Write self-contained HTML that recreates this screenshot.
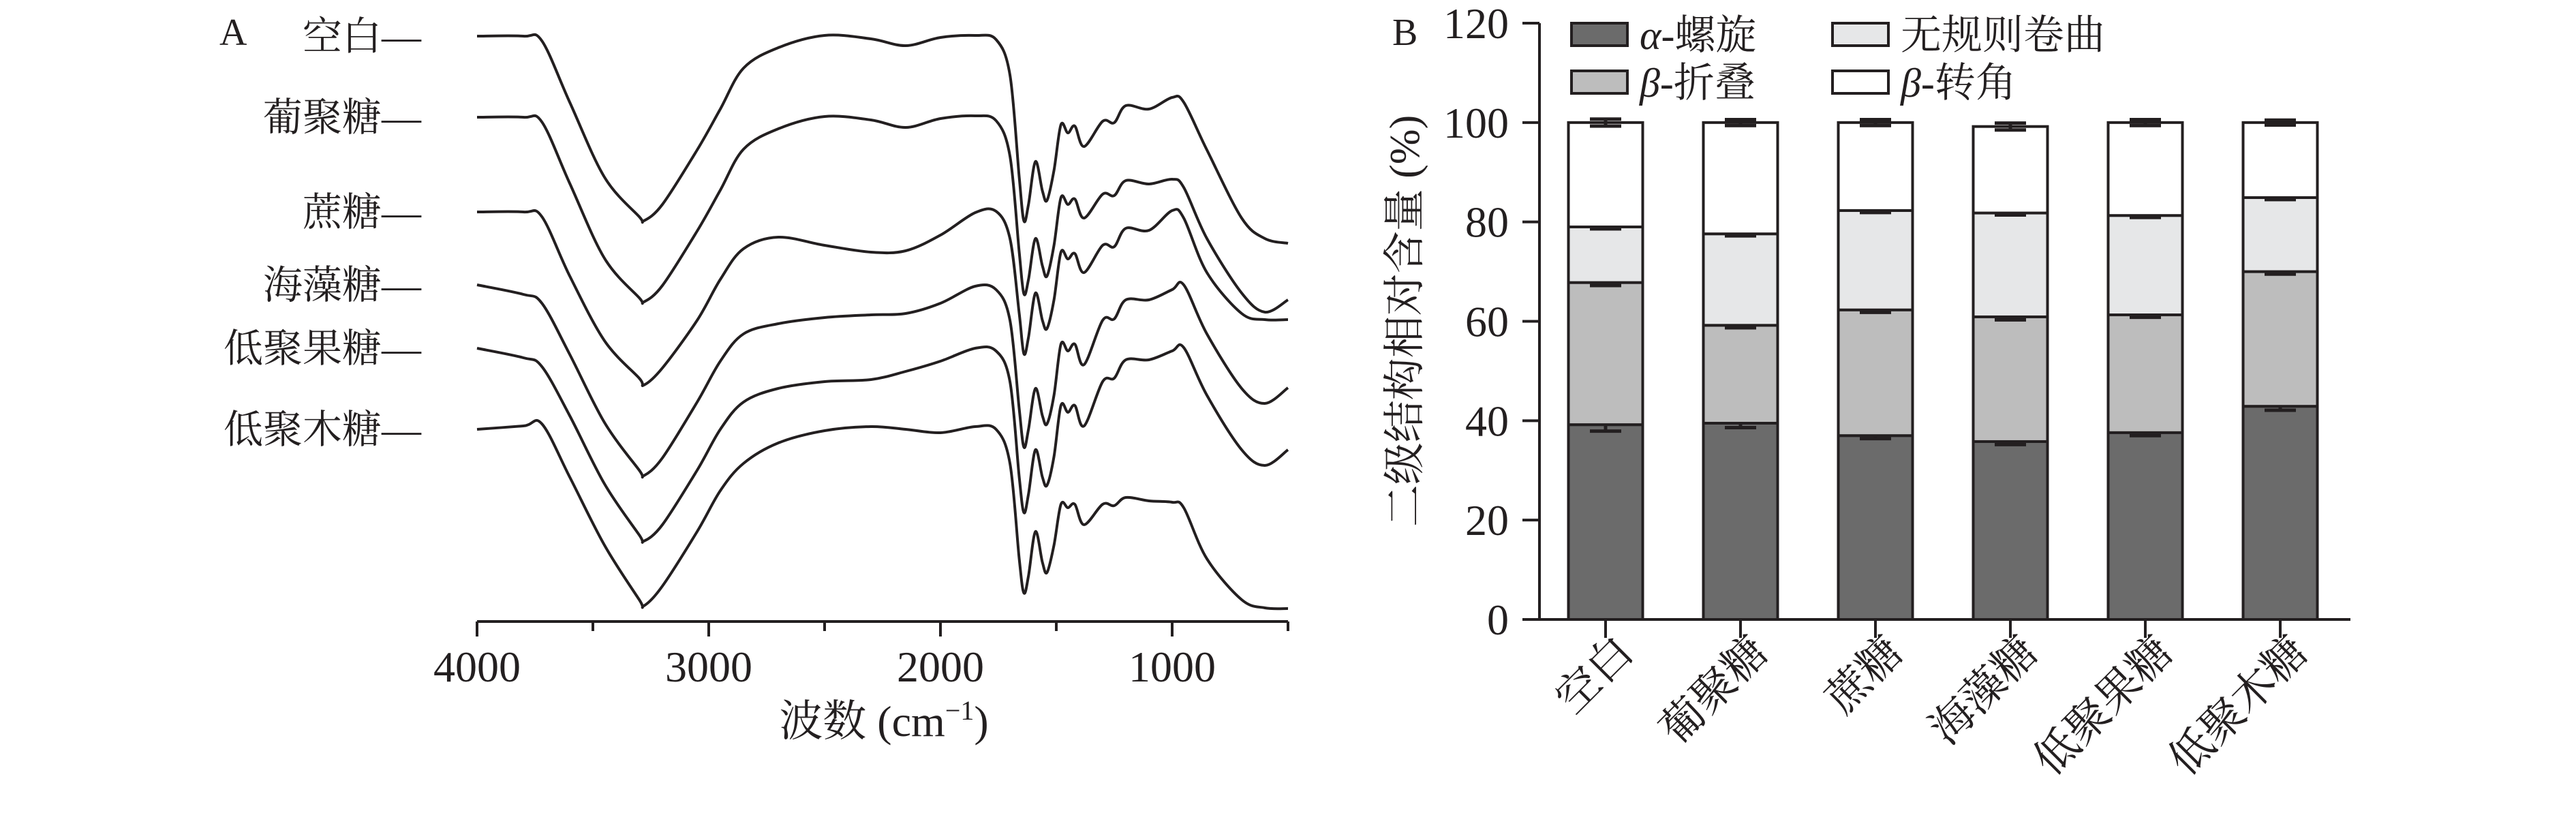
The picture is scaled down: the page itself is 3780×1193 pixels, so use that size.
<!DOCTYPE html>
<html><head><meta charset="utf-8"><style>
html,body{margin:0;padding:0;background:#fff}
svg{display:block}
text{font-family:"Liberation Serif","Noto Serif CJK SC",serif;fill:#231f20}
</style></head><body>
<svg id="fig" width="3780" height="1193" viewBox="0 0 3780 1193" xmlns="http://www.w3.org/2000/svg">
<g id="panelA"></g>
<g id="panelB"></g>
</svg>
<script>
// ---------- Panel A data ----------
const wavenumbers=[4000,3800,3720,3600,3450,3300,3280,3200,3050,2950,2850,2700,2500,2300,2150,2000,1850,1760,1700,1660,1640,1620,1590,1560,1540,1510,1480,1450,1420,1380,1300,1250,1200,1100,1000,950,850,700,600,500];
const sampleNames=["空白","葡聚糖","蔗糖","海藻糖","低聚果糖","低聚木糖"];
const curveBlank=[5.3,5.3,6.0,15.0,26.0,31.8,32.4,30.0,22.0,16.0,10.0,7.0,5.2,5.7,6.7,5.5,5.2,5.8,11.0,26.0,32.4,30.0,23.7,28.0,29.4,25.0,18.3,19.5,18.5,21.5,17.8,18.0,15.5,16.0,14.3,15.0,22.0,32.0,35.0,35.7];
const curveDextran=[17.2,17.2,17.9,26.9,37.9,43.7,44.3,41.9,33.9,27.9,21.9,18.9,17.1,17.6,18.7,17.4,17.0,17.7,22.9,37.0,43.1,41.0,35.0,39.0,40.5,36.0,29.0,30.0,29.2,32.0,28.5,28.7,26.5,27.0,26.3,27.5,35.0,43.0,45.8,44.0];
const curveSucrose=[31.1,31.1,31.8,40.5,50.0,55.5,56.5,54.0,47.0,41.0,36.5,34.8,36.0,37.0,36.8,34.5,31.2,31.0,35.0,46.0,51.9,49.5,43.0,47.0,48.2,44.0,37.0,38.0,37.2,40.0,36.0,36.2,33.5,33.8,30.9,32.0,40.0,46.0,46.9,46.9];
const curveTrehalose=[41.8,43.2,44.5,52.0,62.0,69.0,69.8,67.2,59.0,53.0,49.0,47.5,46.6,46.2,46.0,44.5,42.0,42.5,47.0,60.0,65.6,63.0,57.0,61.0,62.2,58.0,50.5,51.5,50.5,53.5,47.0,46.8,44.0,44.0,42.5,41.8,49.0,57.0,59.2,56.9];
const curveFOS=[51.1,52.5,53.8,61.0,71.0,78.5,79.4,77.0,69.0,63.0,59.0,57.0,56.0,55.7,54.5,53.0,51.1,51.5,56.0,70.0,75.2,72.5,66.0,70.0,71.2,67.0,59.5,60.5,59.5,62.5,56.0,55.5,52.8,52.8,51.5,51.0,58.0,66.0,68.3,66.0];
const curveXOS=[63.0,62.5,62.2,70.0,80.0,88.0,88.9,86.0,78.0,72.0,68.0,65.0,63.2,62.6,63.0,63.5,62.6,63.0,68.0,82.0,87.0,84.5,78.0,82.5,84.0,80.0,74.0,74.5,74.0,77.0,74.0,74.2,73.0,73.5,73.7,74.5,82.0,88.0,89.2,89.3];
const xTicksA=[4000,3000,2000,1000];
// ---------- Panel B data ----------
const categories=["空白","葡聚糖","蔗糖","海藻糖","低聚果糖","低聚木糖"];
const alphaHelix=[39.2,39.5,37.0,35.8,37.6,42.9];
const betaSheet=[28.6,19.7,25.3,25.1,23.7,27.1];
const randomCoil=[11.2,18.4,20.0,20.9,20.0,14.9];
const betaTurn=[21.0,22.4,17.7,17.4,18.7,15.1];
const errAlpha=[1.3,0.9,0.6,0.6,0.6,0.8];
const errSheet=[0.6,0.5,0.5,0.6,0.5,0.5];
const errCoil=[0.4,0.4,0.4,0.4,0.4,0.4];
const errTurn=[0.7,0.6,0.6,0.7,0.6,0.5];
const yTicksB=[0,20,40,60,80,100,120];

const NS="http://www.w3.org/2000/svg";
function mk(tag,attrs,parent,txt){const e=document.createElementNS(NS,tag);for(const k in attrs)e.setAttribute(k,attrs[k]);if(txt!==undefined)e.textContent=txt;parent.appendChild(e);return e;}
function smooth(pts){
  let d='M'+pts[0][0].toFixed(1)+','+pts[0][1].toFixed(1);
  for(let i=0;i<pts.length-1;i++){
    const p0=pts[Math.max(0,i-1)],p1=pts[i],p2=pts[i+1],p3=pts[Math.min(pts.length-1,i+2)];
    const t=0.5/3;
    const c1=[p1[0]+(p2[0]-p0[0])*t,p1[1]+(p2[1]-p0[1])*t];
    const c2=[p2[0]-(p3[0]-p1[0])*t,p2[1]-(p3[1]-p1[1])*t];
    d+='C'+c1[0].toFixed(1)+','+c1[1].toFixed(1)+' '+c2[0].toFixed(1)+','+c2[1].toFixed(1)+' '+p2[0].toFixed(1)+','+p2[1].toFixed(1);
  }
  return d;
}

// ---------- Panel A ----------
const A=document.getElementById('panelA');
const xA=w=>700+(4000-w)*0.34;
const yA=v=>v*10;
const axA=mk('line',{x1:xA(4000),x2:xA(500),y1:912,y2:912,stroke:'#231f20','stroke-width':4},A);


for(let w=4000;w>=500;w-=500){const t=mk('line',{x1:xA(w),x2:xA(w),y1:912,y2:w%1000===0?934:926,stroke:'#231f20','stroke-width':4},A);

}
xTicksA.forEach(w=>{const t=mk('text',{x:xA(w),y:1000,'font-size':64,'text-anchor':'middle'},A,String(w));

});
const tA=mk('text',{x:1297,y:1080,'font-size':64,'text-anchor':'middle'},A);


tA.innerHTML='波数 (cm<tspan dy="-24" font-size="40">−1</tspan><tspan dy="24">)</tspan>';
const la=mk('text',{x:322,y:66,'font-size':56},A,'A');


const curves=[curveBlank,curveDextran,curveSucrose,curveTrehalose,curveFOS,curveXOS];
const curveNames=['curve-blank','curve-dextran','curve-sucrose','curve-trehalose','curve-fos','curve-xos'];
curves.forEach((c,i)=>{
  const pts=c.map((v,j)=>[xA(wavenumbers[j]),yA(v)]);
  const p=mk('path',{d:smooth(pts),fill:'none',stroke:'#231f20','stroke-width':4,'stroke-linejoin':'round'},A);
  
  
  const lb=mk('text',{x:618,y:yA(c[0])+20,'font-size':58,'text-anchor':'end'},A,sampleNames[i]+'—');
  
  
});

// ---------- Panel B ----------
const B=document.getElementById('panelB');
const y0=909,pxPerUnit=(909-34)/120;
const yB=v=>y0-v*pxPerUnit;
const xB=i=>2356+i*198;
const bw=109;
const fills=['#6b6b6b','#bdbdbd','#e6e7e8','#ffffff'];
const series=[alphaHelix,betaSheet,randomCoil,betaTurn];
const errs=[errAlpha,errSheet,errCoil,errTurn];
const segNames=['bar-alpha-helix','bar-beta-sheet','bar-random-coil','bar-beta-turn'];
categories.forEach((cat,i)=>{
  let base=0;
  series.forEach((s,k)=>{
    const top=base+s[i];
    const r=mk('rect',{x:xB(i)-bw/2,y:yB(top),width:bw,height:yB(base)-yB(top),fill:fills[k],stroke:'#231f20','stroke-width':4},B);
    
    
    const e=errs[k][i];
    const g=mk('g',{stroke:'#231f20','stroke-width':5},B);
    
    
    mk('line',{x1:xB(i),x2:xB(i),y1:yB(top-e),y2:yB(top+e)},g);
    mk('line',{x1:xB(i)-23,x2:xB(i)+23,y1:yB(top+e),y2:yB(top+e)},g);
    mk('line',{x1:xB(i)-23,x2:xB(i)+23,y1:yB(top-e),y2:yB(top-e)},g);
    base=top;
  });
  const t=mk('line',{x1:xB(i),x2:xB(i),y1:y0,y2:936,stroke:'#231f20','stroke-width':4},B);
  
  
  const cx=xB(i)+44,cy=960;
  const lb=mk('text',{x:cx,y:cy,'font-size':64,'text-anchor':'end',transform:`rotate(-45 ${cx} ${cy})`},B,cat);
  
  
});
const ya=mk('line',{x1:2259,x2:2259,y1:yB(120),y2:y0+2,stroke:'#231f20','stroke-width':4},B);


const xa=mk('line',{x1:2234,x2:3449,y1:y0,y2:y0,stroke:'#231f20','stroke-width':4},B);


yTicksB.forEach(v=>{
  const t=mk('line',{x1:2234,x2:2259,y1:yB(v),y2:yB(v),stroke:'#231f20','stroke-width':4},B);
  
  
  const l=mk('text',{x:2214,y:yB(v)+22,'font-size':64,'text-anchor':'end'},B,String(v));
  
  
});
const yt=mk('text',{x:0,y:0,'font-size':62,'text-anchor':'middle',transform:'translate(2082 471) rotate(-90)'},B,'二级结构相对含量 (%)');


const lbB=mk('text',{x:2043,y:66,'font-size':56},B,'B');


const legend=[[2306,34,fills[0],'α','-螺旋'],[2689,34,fills[2],'','无规则卷曲'],[2306,104,fills[1],'β','-折叠'],[2689,104,fills[3],'β','-转角']];
legend.forEach(L=>{
  const g=mk('g',{},B);
  
  
  mk('rect',{x:L[0],y:L[1],width:82,height:33,fill:L[2],stroke:'#231f20','stroke-width':4},g);
  const t=mk('text',{x:L[0]+100,y:L[1]+38,'font-size':60},g);
  t.innerHTML=(L[3]?'<tspan font-style="italic">'+L[3]+'</tspan>':'')+L[4];
});
</script>
</body></html>
